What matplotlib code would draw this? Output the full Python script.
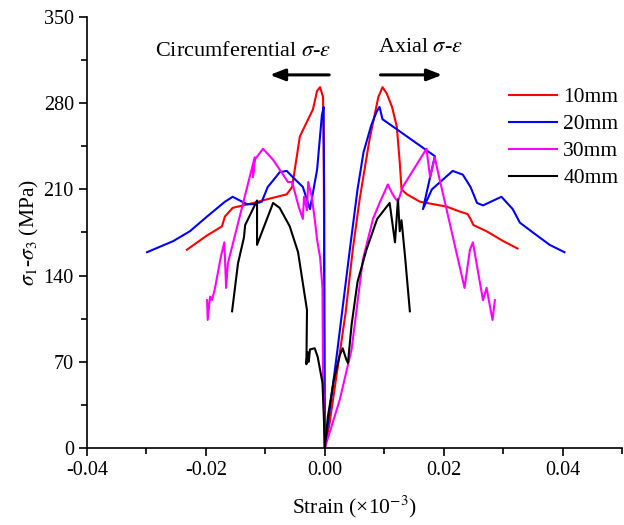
import matplotlib
matplotlib.use("Agg")
import matplotlib.pyplot as plt

plt.rcParams['font.family'] = ['Liberation Serif', 'DejaVu Serif']
plt.rcParams['mathtext.fontset'] = 'stix'
plt.rcParams['axes.unicode_minus'] = False

# 10mm
x10_ax = [0, 0.0008, 0.002, 0.0035, 0.0047, 0.0058, 0.0064, 0.0075, 0.0081, 0.009, 0.0097,
          0.0104, 0.0113, 0.0121, 0.0126, 0.0129, 0.0138, 0.016, 0.0205, 0.0227, 0.024,
          0.0245, 0.025, 0.0272, 0.030, 0.0324]
y10_ax = [0, 20, 60, 110, 161, 200, 218, 250, 264, 285, 293,
          288, 277, 261, 232, 210, 206, 200, 196, 192, 190,
          186, 181, 176, 168, 162]
x10_ci = [0, -0.0001, -0.0002, -0.0003, -0.0008, -0.0013, -0.0020, -0.0042, -0.0055, -0.0064,
          -0.0097, -0.012, -0.0155, -0.0168, -0.0173, -0.020, -0.0232]
y10_ci = [0, 150, 250, 285, 293, 290, 275, 253, 212, 206,
          202, 199, 195, 188, 180, 172, 161]

# 20mm
x20_ax = [0, 0.002, 0.0042, 0.0055, 0.0065, 0.0078, 0.0087, 0.0092, 0.0097, 0.0185, 0.0165,
          0.0180, 0.0215, 0.0232, 0.0245, 0.0256, 0.0266, 0.0297, 0.0316, 0.0328, 0.0350,
          0.0378, 0.0403]
y20_ax = [0, 75, 161, 210, 240, 262, 273, 277, 267, 237, 194,
          210, 225, 222, 212, 199, 197, 204, 194, 183, 175,
          165, 159]
x20_ci = [0, -0.0001, -0.0001, -0.0002, -0.0002, -0.0005, -0.0013, -0.0025, -0.0037, -0.0054,
          -0.0064, -0.0076, -0.0084, -0.0096, -0.0106, -0.0121, -0.0131, -0.0155, -0.0168,
          -0.0198, -0.0227, -0.0255, -0.0299]
y20_ci = [0, 100, 200, 260, 277, 270, 226, 194, 212, 220,
          225, 224, 219, 212, 200, 198, 198, 204, 200,
          188, 176, 168, 159]

# 30mm
x30_ax = [0, 0.0025, 0.0045, 0.0064, 0.0081, 0.0092, 0.0106, 0.0113, 0.0118, 0.0123, 0.0131,
          0.0171, 0.0177, 0.0185, 0.0188, 0.0235, 0.0244, 0.0249, 0.0266, 0.0272, 0.0282, 0.0286]
y30_ax = [0, 39, 80, 153, 186, 199, 214, 207, 203, 200, 212,
          243, 220, 236, 229, 130, 161, 167, 120, 130, 104, 120]
x30_ci = [0, -0.0003, -0.0004, -0.0008, -0.0013, -0.0017, -0.0022, -0.0028, -0.0030, -0.0035,
          -0.0037, -0.0044, -0.0055, -0.0062, -0.0087, -0.0104, -0.0118, -0.0121, -0.0118,
          -0.0163, -0.0166, -0.0169, -0.0175, -0.0180, -0.0185, -0.0190, -0.0193, -0.0197, -0.0198]
y30_ci = [0, 60, 130, 155, 169, 186, 204, 216, 193, 204,
          186, 196, 216, 216, 234, 243, 234, 220, 236,
          150, 130, 167, 155, 142, 129, 120, 123, 104, 120]

# 40mm
x40_ax = [0, 0.0005, 0.0015, 0.0025, 0.003, 0.0036, 0.0039, 0.0041, 0.0045, 0.0055, 0.007,
          0.0088, 0.0109, 0.0118, 0.0123, 0.0126, 0.0129, 0.0135, 0.0143]
y40_ax = [0, 25, 55, 75, 81, 72, 69, 80, 100, 135, 161,
          186, 199, 167, 202, 176, 185, 155, 111]
x40_ci = [0, -0.0002, -0.0004, -0.0012, -0.0017, -0.0025, -0.0027, -0.0029, -0.0031, -0.0030,
          -0.0045, -0.0059, -0.0076, -0.0087, -0.0114, -0.0114, -0.0134, -0.0136, -0.0146, -0.0156]
y40_ci = [0, 30, 53, 74, 81, 80, 70, 78, 68, 112,
          159, 180, 195, 199, 165, 201, 181, 171, 150, 111]

labels = ["10mm", "20mm", "30mm", "40mm"]
colors = ["#ff0000", "#0000ff", "#ff00ff", "#000000"]
series = [(x10_ax, y10_ax, x10_ci, y10_ci),
          (x20_ax, y20_ax, x20_ci, y20_ci),
          (x30_ax, y30_ax, x30_ci, y30_ci),
          (x40_ax, y40_ax, x40_ci, y40_ci)]

fig = plt.figure(figsize=(6.24, 5.25), dpi=100)
ax = fig.add_axes([0.1394, 0.1467, 0.8576, 0.8209])

for (xa, ya, xc, yc), lab, c in zip(series, labels, colors):
    ax.plot(xa, ya, color=c, lw=1.5, label=lab)
    ax.plot(xc, yc, color=c, lw=1.5)

ax.set_xlim(-0.04, 0.05)
ax.set_ylim(0, 350)
ax.set_xticks([-0.04, -0.02, 0.00, 0.02, 0.04])
ax.set_xticks([-0.03, -0.01, 0.01, 0.03, 0.05], minor=True)
ax.set_yticks([0, 70, 140, 210, 280, 350])
ax.set_yticks([35, 105, 175, 245, 315], minor=True)
ax.xaxis.set_major_formatter(matplotlib.ticker.FormatStrFormatter('%.2f'))
ax.spines['top'].set_visible(False)
ax.spines['right'].set_visible(False)
ax.spines['left'].set_linewidth(1.2)
ax.spines['bottom'].set_linewidth(1.2)
ax.tick_params(which='major', direction='out', length=6, width=1.2, labelsize=14.5)
ax.tick_params(which='minor', direction='out', length=4, width=1.2)

ax.set_xlabel("Strain (×10$^{-3}$)", fontsize=15.5, labelpad=10)
ax.set_ylabel(r"$\sigma_1$-$\sigma_3$ (MPa)", fontsize=15.5, labelpad=2)

ax.text(-0.0286, 322, r"Circumferential $\sigma$-$\varepsilon$", fontsize=16, va='center')
ax.text(0.0089, 325, r"Axial $\sigma$-$\varepsilon$", fontsize=16, va='center')
ax.annotate("", xy=(-0.0097, 303), xytext=(0.0012, 303),
            arrowprops=dict(arrowstyle='-|>,head_length=0.9,head_width=0.35', color='black', lw=2.2))
ax.annotate("", xy=(0.0202, 303), xytext=(0.0089, 303),
            arrowprops=dict(arrowstyle='-|>,head_length=0.9,head_width=0.35', color='black', lw=2.2))

ax.legend(loc='upper left', bbox_to_anchor=(0.753, 0.882), frameon=False, fontsize=15.5,
          handlelength=2.2, labelspacing=0.32, handletextpad=0.3)

fig.savefig("out.png", dpi=100)
